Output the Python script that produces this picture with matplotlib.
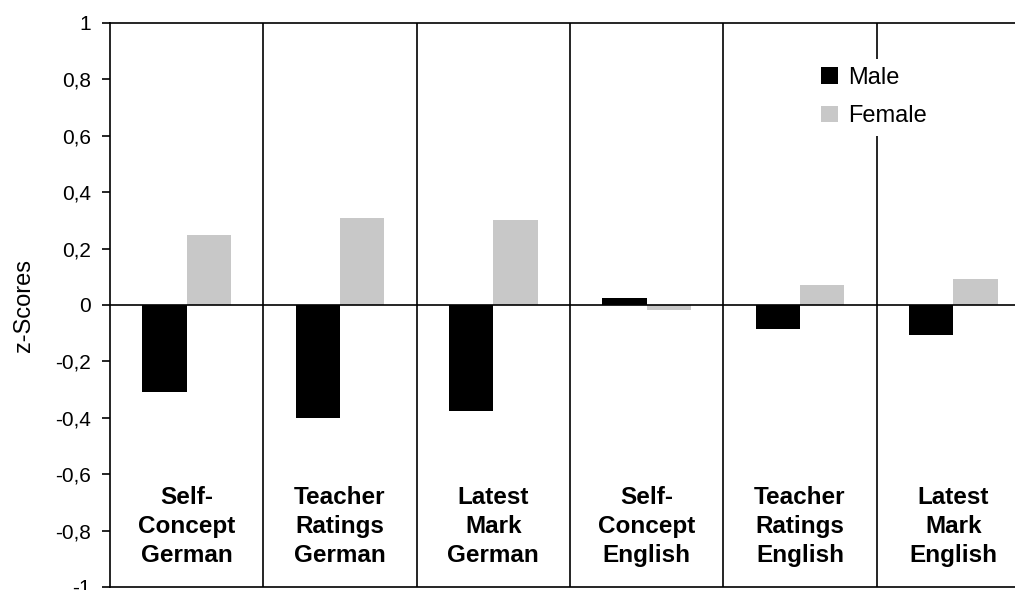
import numpy as np
import matplotlib.pyplot as plt

categories = ['Self-\nConcept\nGerman', 'Teacher\nRatings\nGerman', 'Latest\nMark\nGerman',
              'Self-\nConcept\nEnglish', 'Teacher\nRatings\nEnglish', 'Latest\nMark\nEnglish']
male = [-0.31, -0.40, -0.375, 0.025, -0.085, -0.105]
female = [0.25, 0.31, 0.30, -0.018, 0.07, 0.092]
yticks = [1, 0.8, 0.6, 0.4, 0.2, 0, -0.2, -0.4, -0.6, -0.8, -1]

plt.rcParams['font.family'] = ['Liberation Sans', 'DejaVu Sans']

fig = plt.figure(figsize=(10.15, 5.9), dpi=100)
# right end of the last group lies past the picture edge, as in the original
ax = fig.add_axes([110/1015, 3/590, 920/1015, 564/590])

x = np.arange(len(categories))
w = 0.29
ax.bar(x - w/2, male, w, color='black', label='Male', zorder=2)
ax.bar(x + w/2, female, w, color='#c8c8c8', label='Female', zorder=2)

ax.set_xlim(-0.5, len(categories) - 0.5)
ax.set_ylim(-1, 1)
ax.axhline(0, color='black', lw=1.2, zorder=3)
for d in x[:-1] + 0.5:
    ax.axvline(d, color='black', lw=1.2, zorder=1)

for s in ax.spines.values():
    s.set_linewidth(1.2)

ax.set_xticks([])
ax.set_yticks(yticks)
ax.set_yticklabels([f'{t:g}'.replace('.', ',') for t in yticks], fontsize=15)
ax.tick_params(axis='y', length=5.8, width=1.2, pad=8)
ax.set_ylabel('z-Scores', fontsize=17)
ax.yaxis.set_label_coords(-0.081, 0.5)

for xi, lab in zip(x, categories):
    ax.text(xi, -0.785, lab, ha='center', va='center', fontsize=17.5, fontweight='bold',
            linespacing=1.33)

leg = ax.legend(loc='upper left', bbox_to_anchor=(0.764, 0.937), fontsize=17,
                frameon=True, facecolor='white', edgecolor='none', framealpha=1,
                handlelength=0.7, handleheight=0.7, handletextpad=0.45, labelspacing=0.7,
                borderpad=0.35, borderaxespad=0)
leg.set_zorder(5)

fig.savefig('out.png', dpi=100)
